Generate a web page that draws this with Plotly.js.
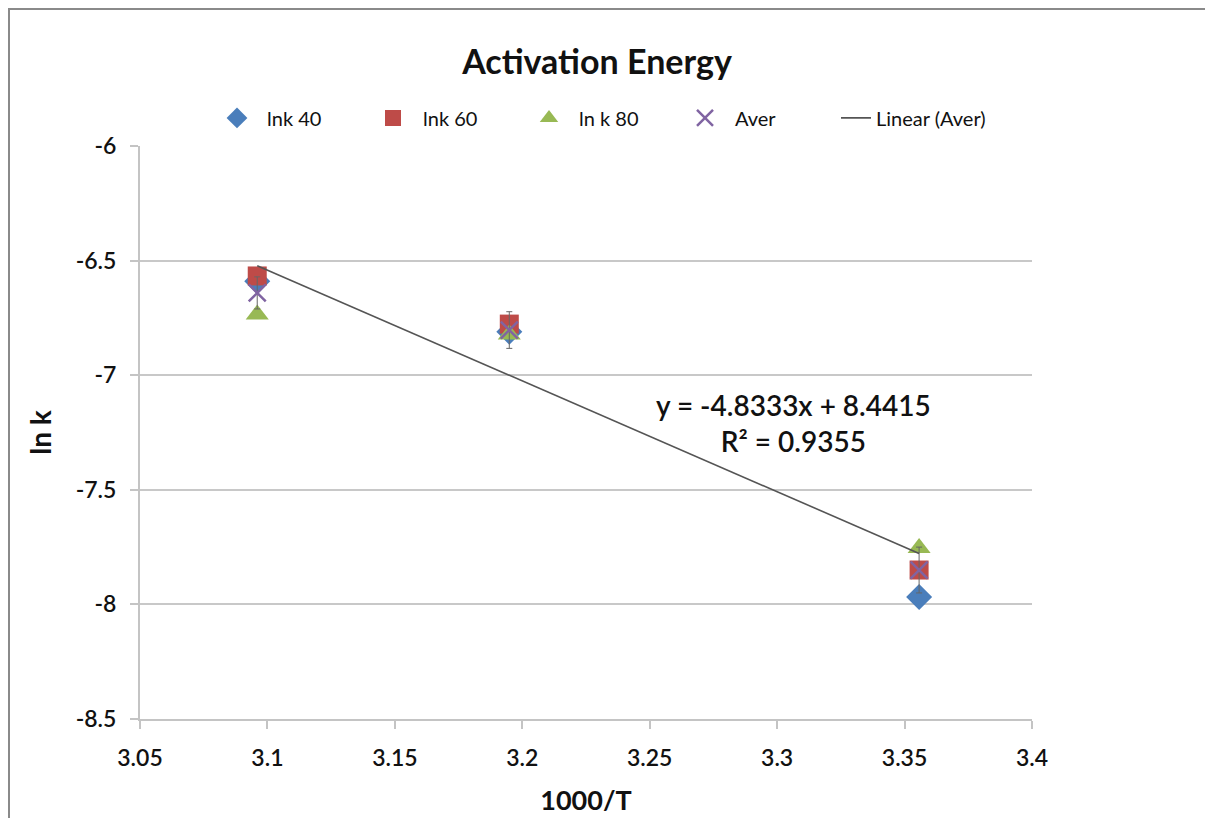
<!DOCTYPE html>
<html>
<head>
<meta charset="utf-8">
<script src="https://cdn.plot.ly/plotly-3.0.1.min.js"></script>
<style>
html,body{margin:0;padding:0;background:#fff;}
#chart{width:1205px;height:818px;}
</style>
</head>
<body>
<div id="chart"></div>
<script>
// Data
const invT = [3.0960, 3.1949, 3.3557];          // 1000/T
const lnk40 = [-6.590, -6.810, -7.968];
const lnk60 = [-6.567, -6.777, -7.850];
const lnk80 = [-6.735, -6.822, -7.754];
const aver  = [-6.641, -6.803, -7.850];
const averErr = [0.07, 0.08, 0.10];
const fitCoef = [-4.8333, 8.4415];              // slope, intercept of Linear (Aver)
const fitR2 = 0.9355;
const seriesNames = ['lnk 40', 'lnk 60', 'ln k 80', 'Aver', 'Linear (Aver)'];
const xTicks = [3.05, 3.1, 3.15, 3.2, 3.25, 3.3, 3.35, 3.4];
const yTicks = [-6, -6.5, -7, -7.5, -8, -8.5];

const FONT = 'Lato, "Open Sans", "DejaVu Sans", sans-serif';
const fitX = [Math.min(...invT), Math.max(...invT)];
const fitY = fitX.map(x => fitCoef[0] * x + fitCoef[1]);

const traces = [
  {x: invT, y: lnk40, name: seriesNames[0], mode: 'markers', type: 'scatter',
   marker: {symbol: 'diamond', size: 20, color: '#4a7ebb'}},
  {x: invT, y: lnk60, name: seriesNames[1], mode: 'markers', type: 'scatter',
   marker: {symbol: 'square', size: 19, color: '#be4b48'}},
  {x: invT, y: lnk80, name: seriesNames[2], mode: 'markers', type: 'scatter',
   marker: {symbol: 'triangle-up', size: 20, color: '#98b954'}},
  {x: invT, y: aver, name: seriesNames[3], mode: 'markers', type: 'scatter',
   marker: {symbol: 'x-thin', size: 17, color: '#8064a2', line: {color: '#8064a2', width: 2.5}},
   error_y: {type: 'data', array: averErr, visible: true, color: '#666', thickness: 1, width: 3}},
  {x: fitX, y: fitY, name: seriesNames[4], mode: 'lines', type: 'scatter', legend: 'legend2',
   line: {color: '#555', width: 1.6}}
];

const sgn = fitCoef[1] >= 0 ? ' + ' : ' - ';
const eqText = 'y = ' + fitCoef[0].toFixed(4) + 'x' + sgn + Math.abs(fitCoef[1]).toFixed(4) +
               '<br>R² = ' + fitR2.toFixed(4);

const tickFont = {family: FONT, size: 23, color: '#111', weight: 600};
const legFont = {family: FONT, size: 20, color: '#111'};

const layout = {
  width: 1205, height: 818,
  paper_bgcolor: '#fff', plot_bgcolor: '#fff',
  margin: {l: 140, r: 173, t: 146, b: 99},
  font: {family: FONT, color: '#1a1a1a'},
  title: {text: '<b>Activation Energy</b>', font: {family: FONT, size: 34, color: '#111'},
          x: 597 / 1205, xanchor: 'center', y: 1 - 62/818, yanchor: 'middle', yref: 'container'},
  showlegend: true,
  legend: {orientation: 'h', x: (207 - 140) / 892, xanchor: 'left', y: 1.049, yanchor: 'middle',
           font: legFont, entrywidth: 91, entrywidthmode: 'pixels', itemwidth: 50,
           bgcolor: 'rgba(0,0,0,0)', traceorder: 'normal'},
  legend2: {orientation: 'h', x: (836 - 140) / 892, xanchor: 'left', y: 1.049, yanchor: 'middle',
           font: legFont, bgcolor: 'rgba(0,0,0,0)'},
  xaxis: {range: [3.05, 3.4], tickvals: xTicks, ticktext: xTicks.map(String),
          showgrid: false, zeroline: false, showline: true, linecolor: '#c4c4c4', linewidth: 2,
          ticks: 'outside', ticklen: 8, tickcolor: '#c4c4c4', tickwidth: 2, ticklabelstandoff: 9,
          tickfont: tickFont,
          title: {text: '<b>1000/T</b>', font: {family: FONT, size: 27, color: '#111'}, standoff: 22}},
  yaxis: {range: [-8.5, -6], tickvals: yTicks, ticktext: yTicks.map(String),
          showgrid: true, gridcolor: '#c8c8c8', gridwidth: 2, zeroline: false,
          showline: true, linecolor: '#c4c4c4', linewidth: 2,
          ticks: 'outside', ticklen: 8, tickcolor: '#c4c4c4', tickwidth: 2, ticklabelstandoff: 9,
          tickfont: tickFont,
          title: {text: '<b>ln k</b>', font: {family: FONT, size: 28, color: '#111'}, standoff: 16}},
  annotations: [{
    xref: 'paper', yref: 'paper', x: (793 - 140) / 892, y: (719 - 423) / 573,
    xanchor: 'center', yanchor: 'middle', showarrow: false, align: 'center',
    text: eqText, font: {family: FONT, size: 28, color: '#111', weight: 600}
  }],
  shapes: [{
    type: 'rect', xref: 'paper', yref: 'paper', layer: 'above',
    x0: (9 - 140) / 892, x1: (1215 - 140) / 892, y0: (719 - 830) / 573, y1: (719 - 9) / 573,
    line: {color: '#8a8a8a', width: 2}
  }]
};

Plotly.newPlot('chart', traces, layout, {displayModeBar: false, staticPlot: true});
</script>
</body>
</html>
